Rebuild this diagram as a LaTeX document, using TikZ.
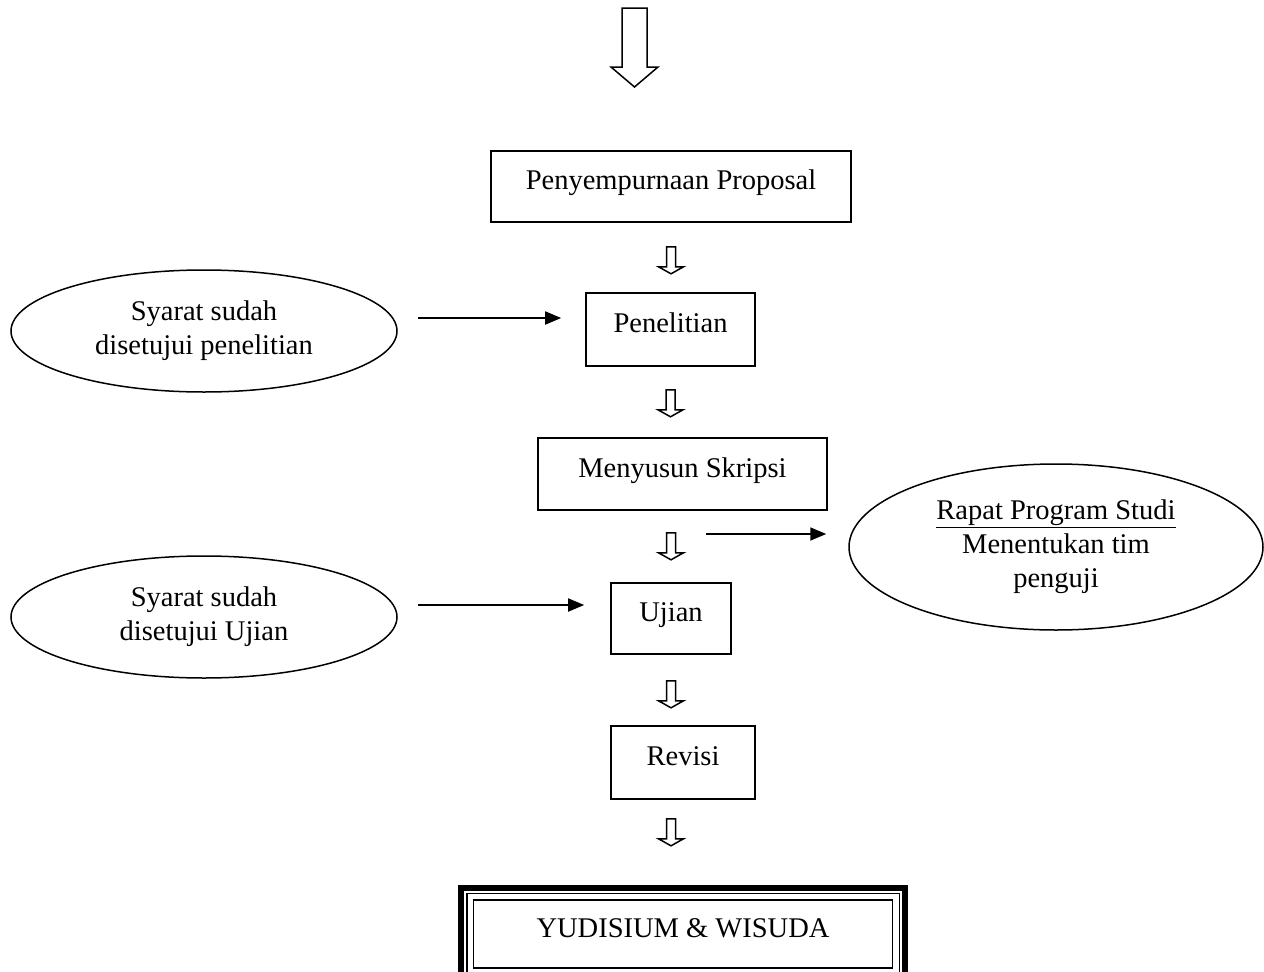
\documentclass[tikz,border=0pt]{standalone}
\usepackage{fontspec}
\setmainfont{Liberation Serif}
\usetikzlibrary{shapes.geometric,arrows.meta}
% hollow block arrow pointing down, #1 = top middle of its shaft
\newcommand{\hollowdown}[1]{%
\draw[blockline] #1 ++(-4.5,0) -- ++(0,20) -- ++(-8,0) -- ++(12.5,7) -- ++(12.5,-7) -- ++(-8,0) -- ++(0,-20) -- cycle;%
}
\begin{document}
\begin{tikzpicture}[x=1pt,y=-1pt,
  font=\fontsize{28.5}{34}\selectfont,
  stepbox/.style={draw, line width=1.6pt, inner sep=0pt, text height=20pt, text depth=14pt},
  oval/.style={draw, ellipse, line width=1.5pt, inner sep=0pt, align=center},
  flow/.style={line width=1.8pt, -{Triangle[length=16pt,width=13pt]}},
  blockline/.style={line width=1.5pt, line join=miter}]%
\useasboundingbox (0,0) rectangle (1264,972);%
% big arrow at the top
\draw[blockline] (622,8) -- (622,67) -- (611,67) -- (634.5,87) -- (658,67) -- (647,67) -- (647,8) -- cycle;%
% steps
\node[stepbox, minimum width=360pt, minimum height=71pt] (prop) at (671,186.5) {Penyempurnaan Proposal};%
\node[stepbox, minimum width=169pt, minimum height=73pt] (pen) at (670.5,329.5) {Penelitian};%
\node[stepbox, minimum width=289pt, minimum height=72pt] (skr) at (682.5,474) {Menyusun Skripsi};%
\node[stepbox, minimum width=120pt, minimum height=71pt] (uji) at (671,618.5) {Ujian};%
\node[stepbox, minimum width=144pt, minimum height=73pt] (rev) at (683,762.5) {Revisi};%
% side conditions
\node[oval, minimum width=386pt, minimum height=122pt] (syp) at (204,331) {Syarat sudah\\disetujui penelitian};%
\node[oval, minimum width=386pt, minimum height=122pt] (syu) at (204,617) {Syarat sudah\\disetujui Ujian};%
\node[oval, minimum width=414pt, minimum height=166pt] (rps) at (1056,547) {\underline{Rapat Program Studi}\\Menentukan tim\\penguji};%
% hollow arrows between steps
\hollowdown{([yshift=-24pt]prop.south)}%
\hollowdown{([yshift=-23pt]pen.south)}%
\hollowdown{([yshift=-22pt]skr.south -| uji.south)}%
\hollowdown{([yshift=-26pt]uji.south)}%
\hollowdown{([yshift=-19pt]rev.south -| uji.south)}%
% side arrows
\coordinate (a1) at (418,318);%
\coordinate (a2) at (706,534);%
\coordinate (a3) at (418,605);%
\draw[flow, shorten >=24pt] (a1) -- (a1 -| pen.west);%
\draw[flow, shorten >=22pt] (a2) -- (a2 -| rps.west);%
\draw[flow, shorten >=26pt] (a3) -- (a3 -| uji.west);%
% final step with triple frame
\node[draw, line width=1.4pt, inner sep=0pt, text height=20pt, text depth=14pt, minimum width=419pt, minimum height=68pt] (yud) at (683,934) {YUDISIUM \& WISUDA};%
\begin{scope}
\clip (0,0) rectangle (1264,972);%
\draw[line width=1.4pt] ([shift={(-6,-6)}]yud.north west) rectangle ([shift={(6,6)}]yud.south east);%
\draw[line width=6pt] ([shift={(-11.5,-11.5)}]yud.north west) rectangle ([shift={(11.5,11.5)}]yud.south east);%
\end{scope}
\end{tikzpicture}
\end{document}
